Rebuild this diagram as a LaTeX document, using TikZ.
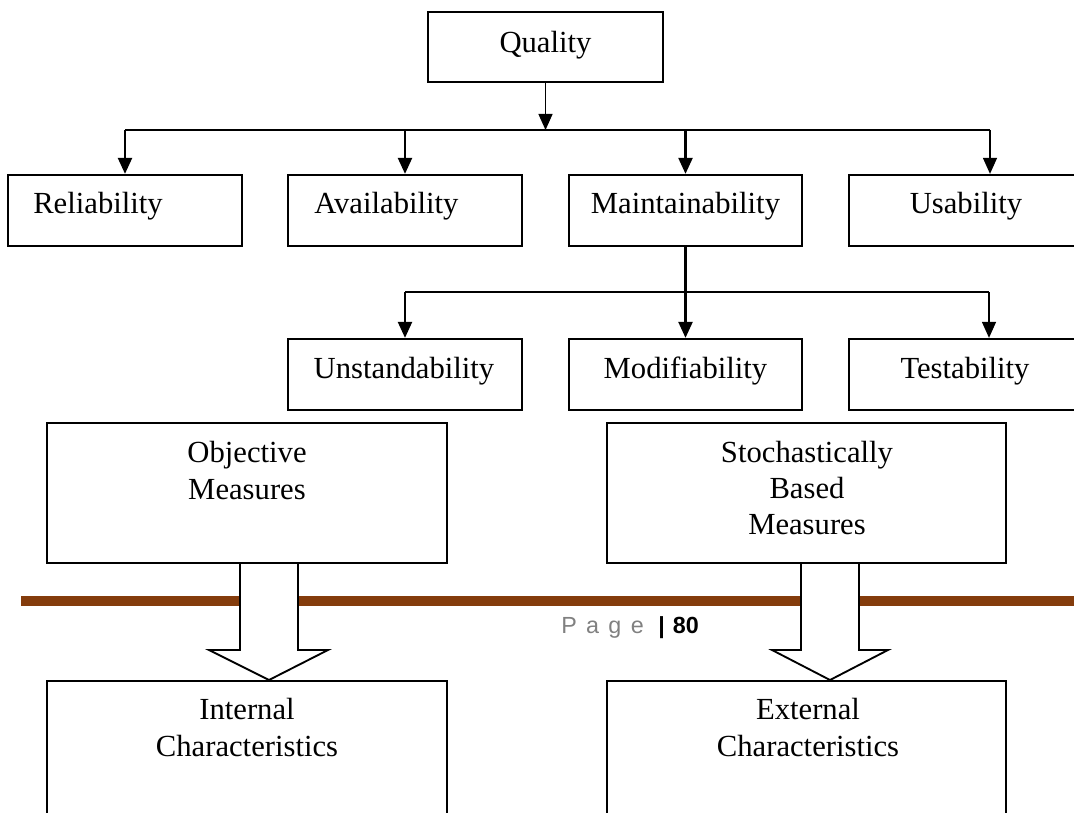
\documentclass[tikz,border=0pt]{standalone}
\usepackage{fontspec}
\setmainfont{Liberation Serif}
\newfontfamily\pagefont{Liberation Sans}
\usetikzlibrary{arrows.meta,fit}
\definecolor{rulebrown}{RGB}{132,60,12}
\definecolor{pagegray}{RGB}{128,128,128}
\begin{document}
\begin{tikzpicture}[x=0.75pt,y=-0.75pt,
  box/.style={draw=black, line width=1.7pt, inner sep=0pt, fill=white},
  bigbox/.style={draw=black, line width=1.4pt, inner sep=0pt, fill=white},
  lbl/.style={anchor=base, inner sep=0pt, font=\fontsize{23}{27}\selectfont},
  lblw/.style={lbl, anchor=base west},
  conn/.style={line width=1.7pt},
  thinconn/.style={line width=1.0pt},
  tip/.style={-{Triangle[length=12pt,width=10.5pt]}},
  hollow/.style={draw=black, line width=1.4pt, fill=white, line join=miter},
  ]
\useasboundingbox (0,0) rectangle (1074,813);
\clip (0,0) rectangle (1074,813);

% page rule (footer)
\draw[rulebrown, line width=7.5pt] (21,601) -- (1090,601);

% boxes
\node[box, fit={(428,12) (663,82)}] (qual) {};
\node[box, fit={(8,175) (242,246)}] (rel) {};
\node[box, fit={(288,175) (522,246)}] (ava) {};
\node[box, fit={(569,175) (802,246)}] (mai) {};
\node[box, fit={(849,175) (1083,246)}] (usa) {};
\node[box, fit={(288,339) (522,410)}] (und) {};
\node[box, fit={(569,339) (802,410)}] (mod) {};
\node[box, fit={(849,339) (1083,410)}] (tes) {};
\node[bigbox, fit={(47,423) (447,563)}] (obj) {};
\node[bigbox, fit={(607,423) (1006,563)}] (sto) {};
\node[bigbox, fit={(47,681) (447,840)}] (int) {};
\node[bigbox, fit={(607,681) (1006,840)}] (ext) {};

% texts
\node[lbl] (qualt) at (545.5,53) {Quality};
\node[lblw] (relt) at (33,214) {Reliability};
\node[lblw] (avat) at (314,214) {Availability};
\node[lbl] (mait) at (685.5,214) {Maintainability};
\node[lbl] (usat) at (966,214) {Usability};
\node[lbl] (undt) at (404,378) {Unstandability};
\node[lbl] (modt) at (685.5,378) {Modifiability};
\node[lbl] (test) at (965,378) {Testability};
\node[lbl] (objt1) at (247,462) {Objective};
\node[lbl] (objt2) at (247,499) {Measures};
\node[lbl] (stot1) at (807,462) {Stochastically};
\node[lbl] (stot2) at (807,498) {Based};
\node[lbl] (stot3) at (807,534) {Measures};
\node[lbl] (intt1) at (247,719) {Internal};
\node[lbl] (intt2) at (247,756) {Characteristics};
\node[lbl] (extt1) at (808,719) {External};
\node[lbl] (extt2) at (808,756) {Characteristics};

% footer text
\node[anchor=base west, inner sep=0pt, font=\pagefont\fontsize{17.5}{20}\selectfont] (pg) at (561,633)
  {\textcolor{pagegray}{P\hspace{7pt}a\hspace{7pt}g\hspace{7pt}e}\hspace{11pt}\textbf{|}\hspace{6pt}\textbf{80}};

% first level connectors
\coordinate (b1) at (545.5,130);
\coordinate (b1r) at (990,130);
\draw[thinconn,tip] (qual.south) -- (b1);
\draw[conn] (rel.north |- b1) -- (mai.north |- b1);
\draw[thinconn] (mai.north |- b1) -- (b1r);
\draw[conn,tip] (rel.north |- b1) -- (rel.north);
\draw[conn,tip] (ava.north |- b1) -- (ava.north);
\draw[conn,tip] (mai.north |- b1) -- (mai.north);
\draw[thinconn,tip] (b1r) -- (b1r |- usa.north);

% second level connectors
\coordinate (b2) at (685.5,292);
\coordinate (b2r) at (989,292);
\draw[conn,tip] (mai.south) -- (mod.north);
\draw[conn] (und.north |- b2) -- (b2);
\draw[thinconn] (b2) -- (b2r);
\draw[conn,tip] (und.north |- b2) -- (und.north);
\draw[thinconn,tip] (b2r) -- (b2r |- tes.north);

% hollow block arrows
\draw[hollow] (240,563) -- (240,650) -- (209,650) -- (269,680) -- (328,650) -- (298,650) -- (298,563) -- cycle;
\draw[hollow] (801,563) -- (801,650) -- (772,650) -- (830,680) -- (888,650) -- (859,650) -- (859,563) -- cycle;
\end{tikzpicture}
\end{document}
